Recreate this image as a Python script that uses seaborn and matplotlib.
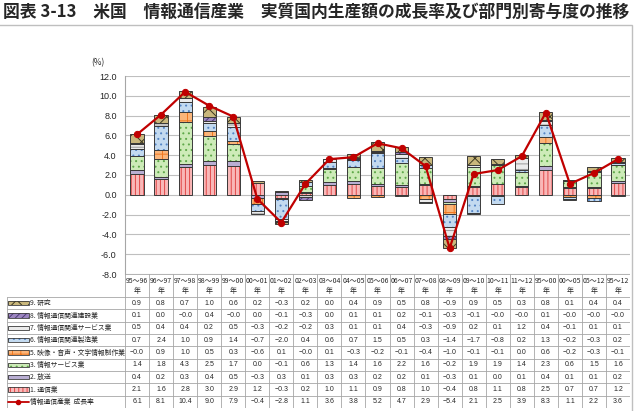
import numpy as np
import pandas as pd
import seaborn as sns
import matplotlib.pyplot as plt
from matplotlib.patches import Rectangle
from matplotlib.lines import Line2D

# periods (x axis / table columns)
periods = ["95～96", "96～97", "97～98", "98～99", "99～00", "00～01", "01～02",
           "02～03", "03～04", "04～05", "05～06", "06～07", "07～08", "08～09",
           "09～10", "10～11", "11～12", "95～00", "00～05", "05～12", "95～12"]

# contributions by sector (percentage points)
s1 = [2.1, 1.6, 2.8, 3.0, 2.9, 1.2, -0.3, 0.2, 1.0, 1.1, 0.9, 0.8, 1.0, -0.4, 0.8, 1.1, 0.8, 2.5, 0.7, 0.7, 1.2]
s2 = [0.4, 0.2, 0.3, 0.4, 0.5, -0.3, 0.3, 0.1, 0.3, 0.3, 0.2, 0.2, 0.1, -0.3, 0.1, 0.0, 0.1, 0.4, 0.1, 0.1, 0.2]
s3 = [1.4, 1.8, 4.3, 2.5, 1.7, 0.0, -0.1, 0.6, 1.3, 1.4, 1.6, 2.2, 1.6, -0.2, 1.9, 1.9, 1.4, 2.3, 0.6, 1.5, 1.6]
s5 = [-0.0, 0.9, 1.0, 0.5, 0.3, -0.6, 0.1, -0.0, 0.1, -0.3, -0.2, -0.1, -0.4, -1.0, -0.1, -0.1, 0.0, 0.6, -0.2, -0.3, -0.1]
s6 = [0.7, 2.4, 1.0, 0.9, 1.4, -0.7, -2.0, 0.4, 0.6, 0.7, 1.5, 0.5, 0.3, -1.4, -1.7, -0.8, 0.2, 1.3, -0.2, -0.3, 0.2]
s7 = [0.5, 0.4, 0.4, 0.2, 0.5, -0.3, -0.2, -0.2, 0.3, 0.1, 0.1, 0.4, -0.3, -0.9, 0.2, 0.1, 1.2, 0.4, -0.1, 0.1, 0.1]
s8 = [0.1, 0.0, -0.0, 0.4, -0.0, 0.0, -0.1, -0.3, 0.0, 0.1, 0.1, 0.2, -0.1, -0.3, -0.1, -0.0, -0.0, 0.1, -0.0, -0.0, -0.0]
s9 = [0.9, 0.8, 0.7, 1.0, 0.6, 0.2, -0.3, 0.2, 0.0, 0.4, 0.9, 0.5, 0.8, -0.9, 0.9, 0.5, 0.3, 0.8, 0.1, 0.4, 0.4]
growth = [6.1, 8.1, 10.4, 9.0, 7.9, -0.4, -2.8, 1.1, 3.6, 3.8, 5.2, 4.7, 2.9, -5.4, 2.1, 2.5, 3.9, 8.3, 1.1, 2.2, 3.6]

names = {"s1": "1. 通信業", "s2": "2. 放送", "s3": "3. 情報サービス業",
         "s5": "5. 映像・音声・文字情報制作業", "s6": "6. 情報通信関連製造業",
         "s7": "7. 情報通信関連サービス業", "s8": "8. 情報通信関連建設業", "s9": "9. 研究"}
line_name = "情報通信産業  成長率"
series = {"s1": s1, "s2": s2, "s3": s3, "s5": s5, "s6": s6, "s7": s7, "s8": s8, "s9": s9}

# face, hatch colour, hatch
styles = {
    "s1": ("#F9B8B8", "#E04848", "||||"),
    "s2": ("#B9AED3", "#8E7FB5", ""),
    "s3": ("#CDEBB8", "#5FA84A", "..."),
    "s5": ("#FAB57A", "#F07820", "++"),
    "s6": ("#C3DAF0", "#5585C5", "..."),
    "s7": ("#EBEBEB", "#9A9A9A", "---"),
    "s8": ("#9C86C0", "#4E3A78", "/////"),
    "s9": ("#C9B77C", "#3C3820", "xx"),
}
stack_order = ["s1", "s2", "s3", "s5", "s6", "s7", "s8", "s9"]
table_order = ["s9", "s8", "s7", "s6", "s5", "s3", "s2", "s1"]

sns.set_theme(style="white")
plt.rcParams["font.family"] = ["Noto Sans CJK JP", "DejaVu Sans"]
plt.rcParams["hatch.linewidth"] = 0.7

W, H = 638, 411
fig = plt.figure(figsize=(W / 100, H / 100), dpi=100)

def fx(px):
    return px / W

def fy(py):
    return 1 - py / H

ax_l, ax_r, ax_t, ax_b = 125, 630, 76, 274
ax = fig.add_axes([fx(ax_l), fy(ax_b), fx(ax_r - ax_l), (ax_b - ax_t) / H])

x = np.arange(len(periods))
width = 0.55
pos = np.zeros(len(periods))
neg = np.zeros(len(periods))
for key in stack_order:
    vals = np.array(series[key])
    bottom = np.where(vals >= 0, pos, neg)
    face, hcol, hatch = styles[key]
    ax.bar(x, vals, width, bottom=bottom, color=face, edgecolor=hcol, hatch=hatch,
           linewidth=0, zorder=2)
    ax.bar(x, vals, width, bottom=bottom, fill=False, edgecolor="#3a3a3a",
           linewidth=0.7, zorder=3)
    pos = pos + np.where(vals >= 0, vals, 0)
    neg = neg + np.where(vals < 0, vals, 0)

df = pd.DataFrame({"x": x, "growth": growth})
sns.lineplot(data=df, x="x", y="growth", ax=ax, color="#C00000", linewidth=1.6,
             marker="o", markersize=4.5, markeredgecolor="#C00000", zorder=5)

ax.set_xlim(-0.5, len(periods) - 0.5)
ax.set_ylim(-8, 12)
ax.set_yticks(np.arange(-8, 13, 2))
ax.set_yticklabels([f"{v:.1f}" for v in np.arange(-8, 13, 2)], fontsize=6.5,
                   family=["Liberation Sans", "DejaVu Sans"])
ax.set_xticks([])
ax.set_xlabel("")
ax.set_ylabel("")
ax.yaxis.grid(True, color="#BFBFBF", linewidth=0.8, zorder=0)
ax.tick_params(axis="y", length=0, pad=6)
for sp in ["top", "right", "bottom"]:
    ax.spines[sp].set_visible(False)
ax.spines["left"].set_color("#A6A6A6")
ax.spines["left"].set_linewidth(0.8)
ax.set_facecolor("white")

fig.text(fx(98), fy(63), "(%)", fontsize=6, ha="center", va="center")

# title
fig.text(fx(3), fy(12), "図表 3-13　米国　情報通信産業　実質国内生産額の成長率及び部門別寄与度の推移",
         fontsize=12.1, fontweight="bold", ha="left", va="center")

# outer frame
fig.patches.append(Rectangle((-0.01, -0.01), fx(632) + 0.01, fy(25) + 0.01,
                             transform=fig.transFigure, fill=False,
                             edgecolor="#BFBFBF", linewidth=1.0))

# data table
tl, tr, tt, tb = 7, 630, 274, 408
tax = fig.add_axes([fx(tl), fy(tb), fx(tr - tl), (tb - tt) / H])
ppu = (ax_r - ax_l) / len(periods)
x_left = -0.5 - (ax_l - tl) / ppu
tax.set_xlim(x_left, len(periods) - 0.5)
tax.set_ylim(tb - tt, 0)
tax.axis("off")

grid_c = "#A6A6A6"
head_h = 23
row_h = (tb - tt - head_h) / 9
num_font = ["Liberation Sans", "DejaVu Sans"]

# header
for i in range(len(periods) + 1):
    tax.plot([i - 0.5, i - 0.5], [0, tb - tt], color=grid_c, lw=0.6)
tax.plot([x_left, x_left], [head_h, tb - tt], color=grid_c, lw=0.6)
for i, p in enumerate(periods):
    tax.text(i, 7, p, ha="center", va="center", fontsize=5)
    tax.text(i, 17, "年", ha="center", va="center", fontsize=5)

rows = table_order + ["line"]
for r, key in enumerate(rows):
    y0 = head_h + r * row_h
    yc = y0 + row_h / 2
    tax.plot([x_left, len(periods) - 0.5], [y0, y0], color=grid_c, lw=0.6)
    sx = x_left + 0.05
    sw = 0.85
    if key == "line":
        vals = growth
        label = line_name
        tax.add_line(Line2D([sx, sx + sw], [yc, yc], color="#C00000", lw=1.3))
        tax.plot([sx + sw / 2], [yc], "o", color="#C00000", ms=3)
    else:
        vals = series[key]
        label = names[key]
        face, hcol, hatch = styles[key]
        tax.add_patch(Rectangle((sx, yc - 2.2), sw, 4.4, facecolor=face,
                                edgecolor=hcol, hatch=hatch, lw=0))
        tax.add_patch(Rectangle((sx, yc - 2.2), sw, 4.4, fill=False,
                                edgecolor="#3a3a3a", lw=0.6))
    tax.text(sx + sw + 0.05, yc, label, ha="left", va="center", fontsize=4.9)
    for i, v in enumerate(vals):
        s = f"{v:.1f}"
        if v < 0 or s == "-0.0":
            s = "−" + f"{abs(v):.1f}"
        tax.text(i, yc, s, ha="center", va="center", fontsize=5, family=num_font)
tax.plot([x_left, len(periods) - 0.5], [tb - tt, tb - tt], color=grid_c, lw=0.6)
tax.plot([-0.5, len(periods) - 0.5], [0, 0], color=grid_c, lw=0.6)

fig.savefig("out.png", dpi=100)
